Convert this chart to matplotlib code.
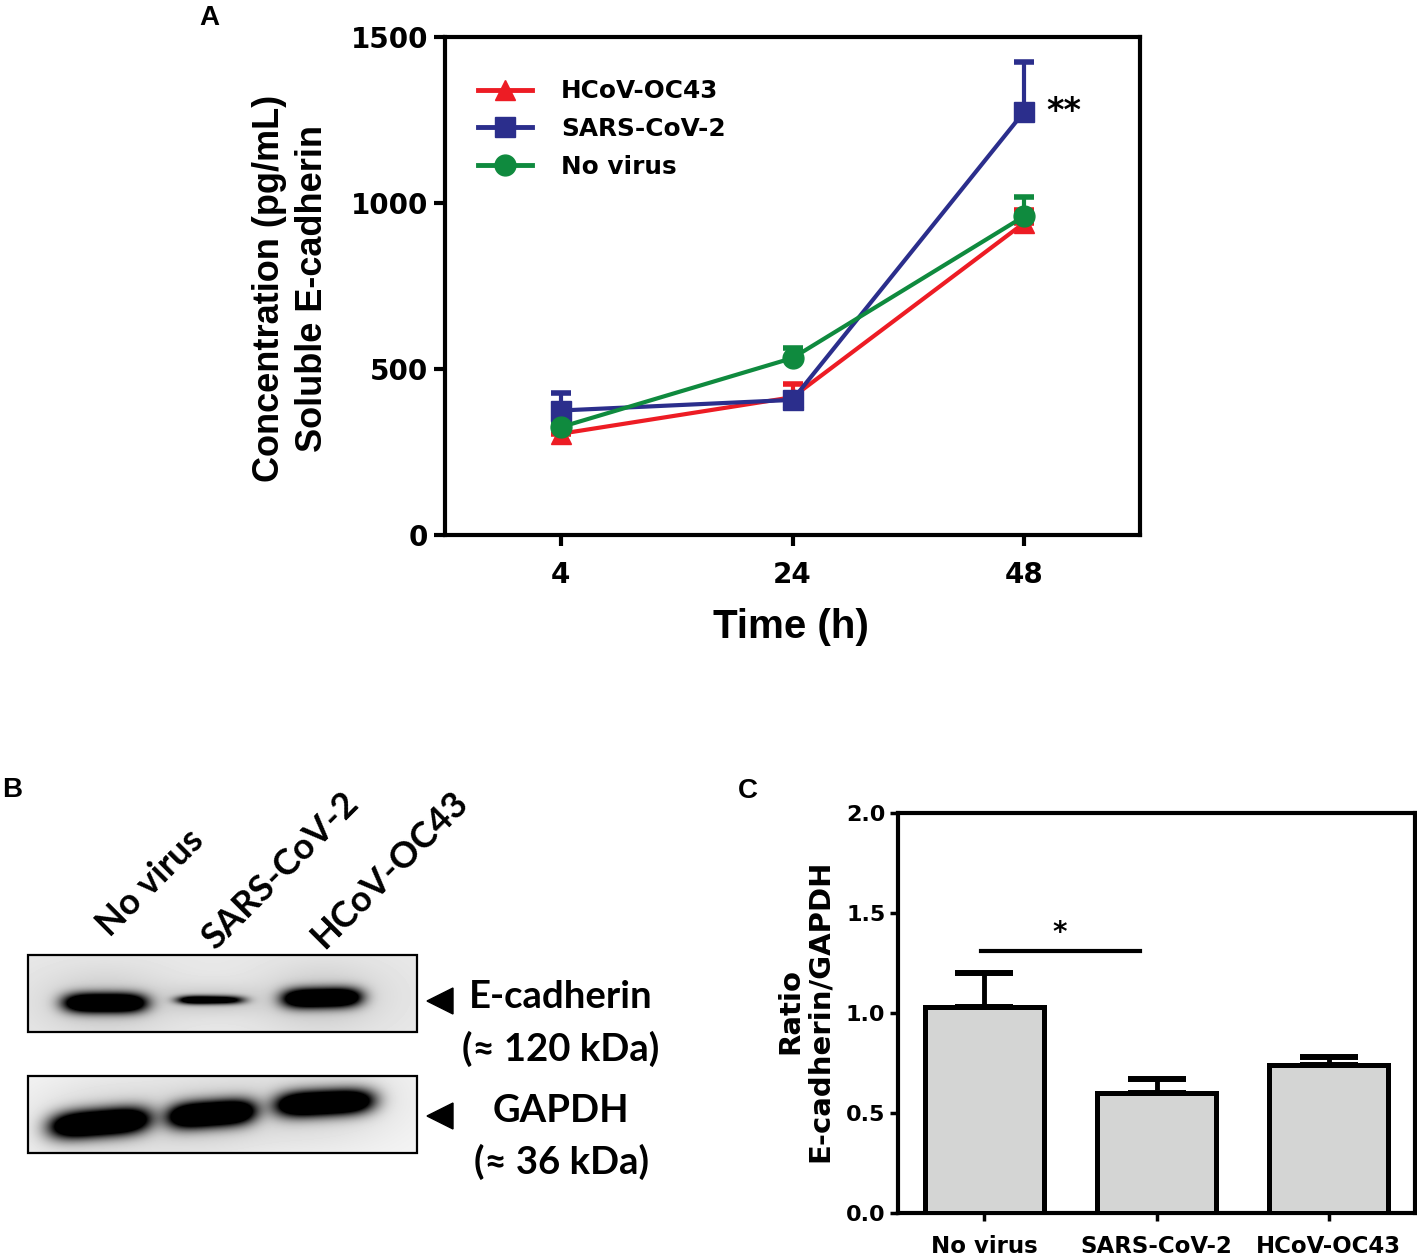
import numpy as np
import matplotlib
matplotlib.use('Agg')
import matplotlib.pyplot as plt
from matplotlib.lines import Line2D
from matplotlib.patches import Rectangle, Polygon

W, H = 1417, 1256

# ---- panel A: soluble E-cadherin over time
time_labels = ['4', '24', '48']
oc43_mean = [305, 415, 940]
oc43_err = [35, 40, 40]
sars_mean = [375, 407, 1275]
sars_err = [52, 15, 150]
novirus_mean = [325, 533, 960]
novirus_err = [15, 30, 58]

# ---- panel B: western blot (relative band strength)
lanes = ['No virus', 'SARS-CoV-2', 'HCoV-OC43']
ecad_signal = [1.0, 0.35, 1.0]
gapdh_signal = [1.0, 0.95, 0.92]

# ---- panel C: densitometry ratio
groups = ['No virus', 'SARS-CoV-2', 'HCoV-OC43']
ratio_mean = [1.03, 0.60, 0.74]
ratio_err = [0.17, 0.07, 0.04]
ratio_ticks = [0.0, 0.5, 1.0, 1.5, 2.0]

ARIAL = 'Liberation Sans'
GP = 'DejaVu Sans'
CAL = ['Lato', 'DejaVu Sans']

plt.rcParams['font.family'] = ['DejaVu Sans']
plt.rcParams['font.weight'] = 'bold'


def fx(px):
    return px / W


def fy(py):
    return 1 - py / H


fig = plt.figure(figsize=(W / 100, H / 100), dpi=100)

# background axes in pixel coordinates, used for labels and the blot
bg = fig.add_axes([0, 0, 1, 1])
bg.set_xlim(0, W)
bg.set_ylim(H, 0)
bg.axis('off')

for lab, px, py in [('A', 209, 18), ('B', 12, 790), ('C', 748, 791)]:
    bg.text(px, py, lab, family=ARIAL, fontsize=20, weight='bold', ha='center', va='center')

# ---------------- A
axA = fig.add_axes([fx(445), fy(535), (1140 - 445) / W, (535 - 37) / H])
x = np.arange(len(time_labels))
series = [
    (oc43_mean, oc43_err, '#ed1c24', '^', 'HCoV-OC43'),
    (sars_mean, sars_err, '#2b2e8c', 's', 'SARS-CoV-2'),
    (novirus_mean, novirus_err, '#0f8a3e', 'o', 'No virus'),
]
handles = []
for mean, err, col, mk, lab in series:
    axA.errorbar(x, mean, yerr=[np.zeros(len(err)), err], color=col, marker=mk,
                 ms=15, lw=3, elinewidth=3, capsize=7, capthick=4, clip_on=False)
    handles.append(Line2D([], [], color=col, marker=mk, ms=15, lw=3.5, label=lab))

axA.set_xlim(-0.5, 2.5)
axA.set_ylim(0, 1500)
axA.set_yticks([0, 500, 1000, 1500])
axA.set_xticks(x)
axA.set_xticklabels(time_labels)
for s in axA.spines.values():
    s.set_linewidth(3)
axA.tick_params(direction='out', length=8, width=3, labelsize=20)
axA.tick_params(axis='y', pad=4)
axA.tick_params(axis='x', pad=11)
for t in axA.get_xticklabels() + axA.get_yticklabels():
    t.set_fontweight('bold')

leg = axA.legend(handles=handles, loc='upper left', bbox_to_anchor=(0.0475, 0.915),
                 frameon=False, borderpad=0, borderaxespad=0, handlelength=2.2,
                 handletextpad=1.15, labelspacing=0.55,
                 prop={'family': GP, 'weight': 'bold', 'size': 17.8})

axA.text(2.17, sars_mean[2], '**', family=GP, weight='bold', fontsize=24,
         ha='center', va='center')

bg.text(791, 627, 'Time (h)', family=ARIAL, weight='bold', fontsize=29, ha='center', va='center')
bg.text(291, 288, 'Concentration (pg/mL)\nSoluble E-cadherin', family=ARIAL, weight='bold',
        fontsize=26, rotation=90, ha='center', va='center', multialignment='center',
        linespacing=1.3)

# ---------------- B (blot drawn as image)
def blot_img(signal, cxs, cys, wxs, base_wy, tilts, bg_level):
    h, w = 77, 389
    yy, xx = np.mgrid[0:h, 0:w] + 0.5
    dark = np.zeros((h, w))
    haze = np.zeros((h, w))
    for s, cx, cy, wx, tl in zip(signal, cxs, cys, wxs, tilts):
        wy = base_wy * s ** 0.8
        dy = yy - cy - tl * (xx - cx)
        taper = 1 - 0.35 * (1 - s) * (xx - cx) / wx
        dark += 2.0 * min(1.0, s * 2.2) * taper * np.exp(-((xx - cx) / wx) ** 4 - (dy / wy) ** 2)
        haze += 0.12 * np.exp(-((xx - cx) / (wx * 1.6)) ** 2 - (dy / (wy * 3.5)) ** 2)
    img = bg_level - np.clip(haze, 0, 0.2) - (bg_level - 0.06) * np.clip(dark, 0, 1)
    return np.clip(img, 0, 1)


top = blot_img(ecad_signal, [77, 184, 294], [48, 45, 43], [41, 33, 39], 9.5,
               [0.0, 0.0, -0.02], 0.91)
bot = blot_img(gapdh_signal, [72, 184, 297], [47, 38, 27], [49, 43, 48], 13,
               [-0.08, -0.07, -0.05], 0.96)
bg.imshow(top, cmap='gray', vmin=0, vmax=1, extent=(28, 417, 1032, 955),
          aspect='auto', interpolation='bilinear', zorder=1)
bg.imshow(bot, cmap='gray', vmin=0, vmax=1, extent=(28, 417, 1153, 1076),
          aspect='auto', interpolation='bilinear', zorder=1)
bg.set_xlim(0, W)
bg.set_ylim(H, 0)
for y0 in [955, 1076]:
    bg.add_patch(Rectangle((28, y0), 389, 77, fill=False, lw=1.6, ec='black', zorder=2))

for cy in [1001, 1116]:
    bg.add_patch(Polygon([[427, cy], [453, cy - 13], [453, cy + 13]], closed=True,
                         color='black', zorder=2))

for lab, px, py in zip(lanes, [150, 280, 390], [883, 871, 870]):
    bg.text(px, py, lab, family=CAL, weight='bold', fontsize=26, rotation=45,
            ha='center', va='center')

for txt, py in [('E-cadherin', 997), ('(≈ 120 kDa)', 1049), ('GAPDH', 1111), ('(≈ 36 kDa)', 1162)]:
    bg.text(561, py, txt, family=CAL, weight='bold', fontsize=27.5, ha='center', va='center')

# ---------------- C
axC = fig.add_axes([fx(898), fy(1213), (1415 - 898) / W, (1213 - 813) / H])
xc = np.arange(len(groups))
axC.bar(xc, ratio_mean, width=0.69, color='#d4d5d4', edgecolor='black', lw=3.6, zorder=3)
axC.errorbar(xc, ratio_mean, yerr=[np.zeros(len(ratio_err)), ratio_err], fmt='none',
             ecolor='black', elinewidth=3.5, capsize=21, capthick=4.3, zorder=2)
axC.set_xlim(-0.5, 2.5)
axC.set_ylim(0, 2)
axC.set_yticks(ratio_ticks)
axC.set_yticklabels([f'{v:.1f}' for v in ratio_ticks])
axC.set_xticks(xc)
axC.set_xticklabels(groups)
for s in axC.spines.values():
    s.set_linewidth(3)
axC.tick_params(axis='y', direction='out', length=6, width=2.5, labelsize=16, pad=3)
axC.tick_params(axis='x', direction='out', length=6, width=2.5, labelsize=16.5, pad=10)
for t in axC.get_xticklabels() + axC.get_yticklabels():
    t.set_fontweight('bold')

sig_y = 1.31
axC.plot([xc[0] - 0.02, xc[1] - 0.095], [sig_y, sig_y], color='black', lw=3, zorder=4)
axC.text((xc[0] + xc[1]) / 2 - 0.06, sig_y + 0.02, '*', family=GP, weight='bold',
         fontsize=20, ha='center', va='bottom')

bg.text(805, 1011, 'Ratio\nE-cadherin/GAPDH', family=GP, weight='bold', fontsize=21,
        rotation=90, ha='center', va='center', multialignment='center', linespacing=1.1)

fig.savefig('out.png', dpi=100)
